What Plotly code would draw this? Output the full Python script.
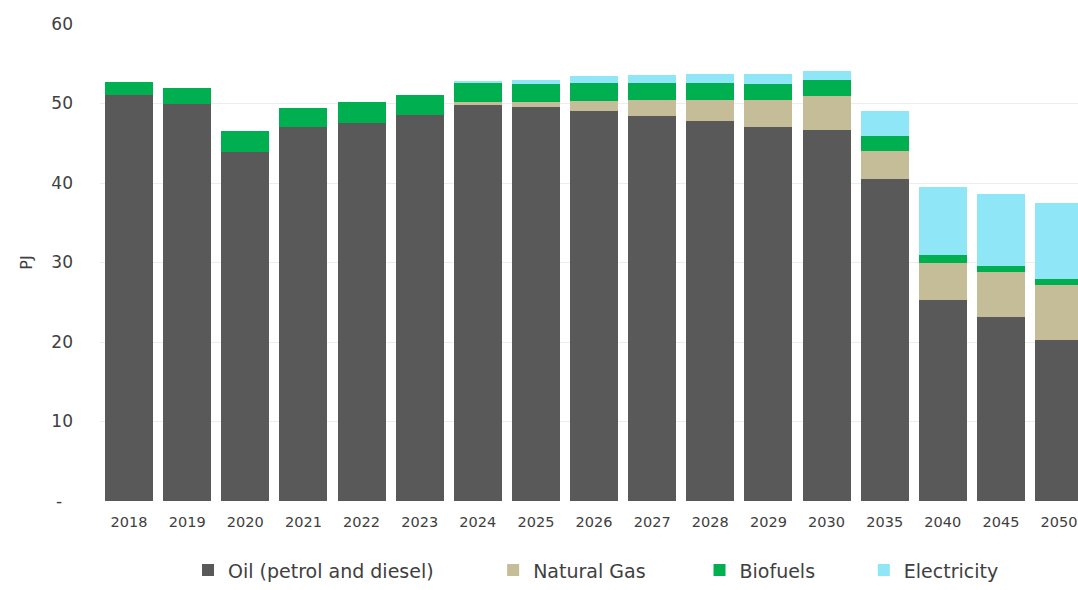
import plotly.graph_objects as go

# Transport energy demand by fuel (PJ)
years = ["2018", "2019", "2020", "2021", "2022", "2023", "2024", "2025", "2026",
         "2027", "2028", "2029", "2030", "2035", "2040", "2045", "2050"]
oil = [51.1, 50.0, 43.9, 47.1, 47.5, 48.5, 49.8, 49.5, 49.1,
       48.4, 47.8, 47.0, 46.7, 40.45, 25.3, 23.1, 20.25]
natural_gas = [0, 0, 0, 0, 0, 0, 0.4, 0.7, 1.25,
               2.0, 2.6, 3.5, 4.2, 3.55, 4.6, 5.75, 6.95]
biofuels = [1.6, 2.0, 2.6, 2.3, 2.65, 2.55, 2.45, 2.2, 2.25,
            2.2, 2.2, 1.95, 2.0, 1.9, 1.0, 0.75, 0.7]
electricity = [0, 0, 0, 0, 0, 0, 0.2, 0.6, 0.85,
               1.0, 1.1, 1.25, 1.2, 3.2, 8.55, 9.0, 9.55]

y_ticks = [0, 10, 20, 30, 40, 50, 60]
y_tick_text = ["-\u00a0\u00a0", "10", "20", "30", "40", "50", "60"]

series = [
    ("Oil (petrol and diesel)", oil, "#595959", "legend", 0.090),
    ("Natural Gas", natural_gas, "#C4BD97", "legend2", 0.402),
    ("Biofuels", biofuels, "#00B050", "legend3", 0.613),
    ("Electricity", electricity, "#8EE6F7", "legend4", 0.781),
]

FONT = "DejaVu Sans"
TEXT = "#404040"

fig = go.Figure()
for name, vals, color, leg, _ in series:
    fig.add_trace(go.Bar(
        x=years, y=vals, name=name, legend=leg,
        marker=dict(color=color, line=dict(width=0)),
    ))

# each legend entry sits in its own box along the bottom edge
legend_common = dict(
    orientation="h", yanchor="bottom", xanchor="left", y=-0.185,
    font=dict(family=FONT, size=19, color=TEXT),
    bgcolor="rgba(0,0,0,0)", itemwidth=30,
)
layout_legends = {}
for _, _, _, leg, xpos in series:
    layout_legends[leg] = dict(legend_common, x=xpos)

fig.update_layout(
    barmode="stack",
    bargap=0.174,
    width=1078, height=590,
    margin=dict(l=100, r=0, t=24, b=89),
    paper_bgcolor="white",
    plot_bgcolor="white",
    font=dict(family=FONT, color=TEXT),
    showlegend=True,
    xaxis=dict(
        type="category",
        range=[-0.5, 16.326],
        showgrid=False, showline=False, zeroline=False,
        tickfont=dict(family=FONT, size=14.5, color=TEXT),
        ticks="", ticklabelstandoff=10,
    ),
    yaxis=dict(
        range=[0, 60],
        tickvals=y_ticks, ticktext=y_tick_text,
        showgrid=True, gridcolor="#EDEDED", gridwidth=1,
        showline=False, zeroline=False,
        tickfont=dict(family=FONT, size=17, color=TEXT),
        ticks="", ticklabelstandoff=26,
        title=dict(text="PJ", font=dict(family=FONT, size=16, color=TEXT), standoff=14),
    ),
    **layout_legends,
)

fig.write_html("out.html")
